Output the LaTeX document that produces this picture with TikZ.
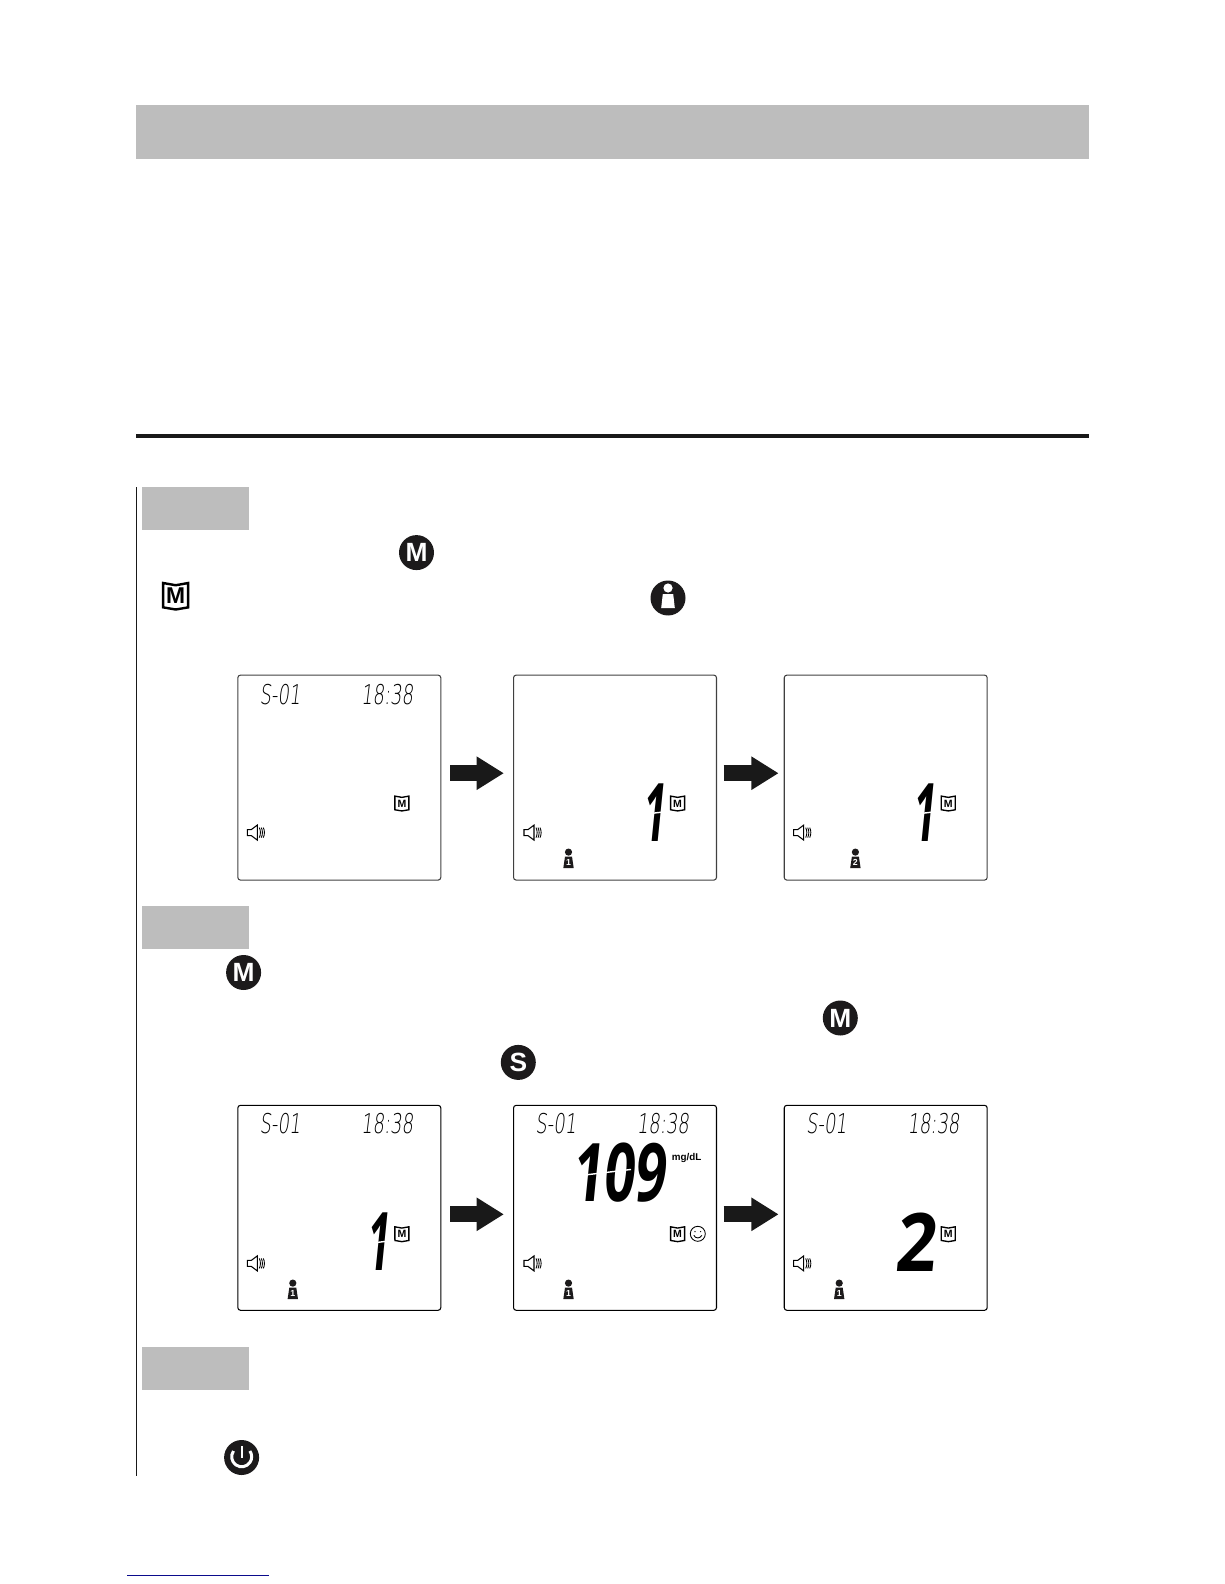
\documentclass[tikz,border=0pt]{standalone}
\usepackage{fontspec}
\setmainfont{Liberation Sans}
\newfontfamily\lcdThin{DejaVu Sans ExtraLight}
\newfontfamily\lcdBold{Open Sans}
\usetikzlibrary{arrows.meta}

\begin{document}
\begin{tikzpicture}[x=0.02cm, y=-0.02cm,
    lcd/.style={draw=#1, line width=0.6pt, rounded corners=1.5pt, anchor=north west, inner sep=0pt, minimum width=4.06cm, minimum height=4.1cm},
    flowArrow/.style={line width=9pt, -{Triangle[length=15.5pt, width=18pt]}, black!90},
    stepBar/.style={fill=barColour, draw=none},
    roundKey/.style={circle, fill=keyColour, text=white, inner sep=0pt, minimum size=0.7cm, font=\fontsize{15}{15}\bfseries\selectfont},
    lcdSmall/.style={inner sep=0pt, transform shape, xslant=0.12, xscale=0.66, font=\lcdThin\fontsize{15.5}{15.5}\selectfont},
    lcdBig/.style={inner sep=0pt, transform shape, xslant=0.1, xscale=#1, font=\lcdBold\fontsize{46}{46}\bfseries\selectfont},
    lcdGap/.style={white, line width=0.8pt}]

    % Define colours
    \definecolor{barColour}{HTML}{BDBDBD}
    \definecolor{keyColour}{HTML}{1C1A1B}
    \definecolor{linkColour}{HTML}{0B0B8C}

    % Define the small display icons
    \newcommand{\bookIcon}[5]{
        \begin{scope}[shift={(#2,#3)}]
            \draw[line width=#4*0.11pt, fill=white] (-#4,-#4) -- (0,-0.82*#4) -- (#4,-#4) -- (#4,0.95*#4) -- (0,1.12*#4) -- (-#4,0.95*#4) -- cycle;
            \node[inner sep=0pt, font=\fontsize{#5}{#5}\bfseries\selectfont] (#1) at (0,0.05*#4) {M};
        \end{scope}
    }
    \newcommand{\speakerIcon}[2]{
        \begin{scope}[shift={(#1,#2)}]
            \draw[line width=0.6pt, fill=white] (-8,-3) -- (-4,-3) -- (2,-7.5) -- (2,7.5) -- (-4,3) -- (-8,3) -- cycle;
            \foreach \r in {4,6,8}
                \draw[line width=0.5pt] (\r,-5) .. controls (\r+1.5,-2) and (\r+1.5,2) .. (\r,5);
        \end{scope}
    }
    \newcommand{\personIcon}[4]{
        \begin{scope}[shift={(#2,#3)}]
            \fill[keyColour] (0,-7.5) circle (3.6);
            \fill[keyColour] (-3.5,-3) -- (3.5,-3) -- (5.2,8.5) -- (-5.2,8.5) -- cycle;
            \node[inner sep=0pt, text=white, font=\fontsize{5}{5}\bfseries\selectfont] (#1) at (0,2.8) {#4};
        \end{scope}
    }
    % A bar digit that is cut across its middle
    \newcommand{\midGap}[3]{
        \draw[lcdGap] (#1-#3,#2+0.12*#3) -- (#1+#3,#2-0.12*#3);
    }

    % Fix the page
    \useasboundingbox (0,0) rectangle (1224,1584);

    % Draw header and rule
    \fill[stepBar] (136,105) rectangle (1089,159.5);
    \draw[line width=2.2pt, black!90] (136,436) -- (1089,436);
    \draw[line width=0.7pt, black!90] (136.3,487) -- (136.3,1476);

    % Draw step bars
    \foreach \y in {487,906,1347}
        \fill[stepBar] (141.5,\y) rectangle (249,\y+43);

    % Draw round keys
    \node[roundKey] (keyM) at (416.5,552.6) {M};
    \node[roundKey] (keyMb) at (243.6,972.5) {M};
    \node[roundKey] (keyMc) at (840.3,1018) {M};
    \node[roundKey] (keyS) at (518.3,1062.4) {S};
    \node[roundKey] (keyUser) at (668,598) {};
    \fill[white] (668,588) circle (4.6);
    \fill[white] (662.8,594) -- (673.2,594) -- (674.8,608) -- (661.2,608) -- cycle;
    \node[roundKey] (keyPower) at (241.6,1457.5) {};
    \draw[white, line width=1.7pt] (233.5,1451) arc[start angle=215, end angle=-35, radius=10];
    \draw[white, line width=1.2pt] (241.6,1446) -- (241.6,1458);

    % Draw the book symbol of the text
    \bookIcon{bookText}{175.7}{595.5}{12.5}{13}

    % Draw the display frames
    \foreach \name/\x/\y/\col in {lcdA/237.3/674.6/black!75, lcdB/513/674.6/black!75, lcdC/783.7/674.6/black!75, lcdD/237.3/1104.8/black, lcdE/513/1104.8/black, lcdF/783.7/1104.8/black}
        \node[lcd=\col] (\name) at (\x,\y) {};

    % Draw the flow arrows
    \draw[flowArrow, shorten <=5pt, shorten >=5.2pt] ([yshift=2.5pt]lcdA.east) -- ([yshift=2.5pt]lcdB.west);
    \draw[flowArrow, shorten <=3.8pt, shorten >=2.9pt] ([yshift=2.5pt]lcdB.east) -- ([yshift=2.5pt]lcdC.west);
    \draw[flowArrow, shorten <=5pt, shorten >=5.2pt] ([yshift=-3.7pt]lcdD.east) -- ([yshift=-3.7pt]lcdE.west);
    \draw[flowArrow, shorten <=3.8pt, shorten >=2.9pt] ([yshift=-3.7pt]lcdE.east) -- ([yshift=-3.7pt]lcdF.west);

    % Fill the first row
    \begin{scope}[shift={(lcdA.north west)}]
        \node[lcdSmall] (dateA) at (44,20) {S-01};
        \node[lcdSmall] (timeA) at (151,20) {18:38};
        \bookIcon{bookA}{164.6}{128.5}{7}{6}
        \speakerIcon{18}{158}
    \end{scope}
    \begin{scope}[shift={(lcdB.north west)}]
        \bookIcon{bookB}{164.6}{128.5}{7}{6}
        \speakerIcon{19}{158}
        \personIcon{userB}{55.5}{185}{1}
        \node[lcdBig=0.5] (countB) at (143,138) {1};
        \midGap{145}{138}{12}
    \end{scope}
    \begin{scope}[shift={(lcdC.north west)}]
        \bookIcon{bookC}{164.6}{128.5}{7}{6}
        \speakerIcon{18}{158}
        \personIcon{userC}{71.7}{185}{2}
        \node[lcdBig=0.5] (countC) at (142.4,138) {1};
        \midGap{144.4}{138}{12}
    \end{scope}

    % Fill the second row
    \begin{scope}[shift={(lcdD.north west)}]
        \node[lcdSmall] (dateD) at (44,19) {S-01};
        \node[lcdSmall] (timeD) at (151,19) {18:38};
        \bookIcon{bookD}{164.6}{129}{7}{6}
        \speakerIcon{18}{158.6}
        \personIcon{userD}{55.5}{185.8}{1}
        \node[lcdBig=0.5] (countD) at (143,137) {1};
        \midGap{145}{137}{12}
    \end{scope}
    \begin{scope}[shift={(lcdE.north west)}]
        \node[lcdSmall] (dateE) at (44,19) {S-01};
        \node[lcdSmall] (timeE) at (151,19) {18:38};
        \node[lcdBig=0.68] (valueE) at (108,68) {109};
        \midGap{90}{68}{28}
        \node[inner sep=0pt, font=\fontsize{5.6}{5.6}\bfseries\selectfont] (unitE) at (173.7,53.5) {mg/dL};
        \bookIcon{bookE}{164.6}{129}{7}{6}
        \draw[line width=0.5pt] (184.8,129) circle (7.5);
        \fill (182,126.8) circle (0.7) (187.6,126.8) circle (0.7);
        \draw[line width=0.5pt] (180.8,130.5) .. controls (182.5,134) and (187.1,134) .. (188.8,130.5);
        \speakerIcon{19}{158.6}
        \personIcon{userE}{55.5}{185.8}{1}
    \end{scope}
    \begin{scope}[shift={(lcdF.north west)}]
        \node[lcdSmall] (dateF) at (44,19) {S-01};
        \node[lcdSmall] (timeF) at (151,19) {18:38};
        \node[lcdBig=0.88] (countF) at (134.5,137.5) {2};
        \bookIcon{bookF}{164.6}{129}{7}{6}
        \speakerIcon{18}{158.6}
        \personIcon{userF}{55.5}{185.8}{1}
    \end{scope}

    % Draw the link line
    \draw[linkColour, line width=0.6pt] (127,1575.5) -- (269,1575.5);

\end{tikzpicture}
\end{document}
